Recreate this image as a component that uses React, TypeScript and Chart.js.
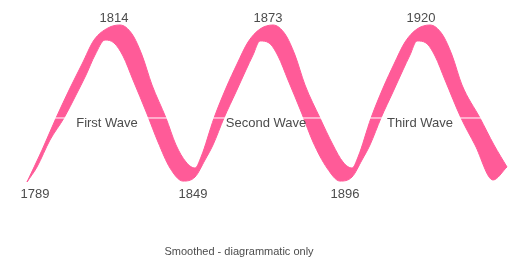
import { useEffect, useRef } from 'react';
import { Chart, registerables } from 'chart.js';

Chart.register(...registerables);

// Upper boundary of the ribbon (outer edge at peaks, inner edge at troughs) – diagrammatic phase units
const upperEdgeX = [0, 3.75, 7.25, 10.75, 13.75, 16.75, 20.25, 23.25, 26.25, 28.75, 31.25, 34.75, 37.25, 39.75, 42, 43.5, 46.75, 49.75, 52.5, 55.25, 58.25, 61.5, 64.5, 67, 69.5, 73.25, 76.5, 79, 81.25, 82.75, 86, 89, 91.75, 94.5, 97.5, 100.75, 103.75, 106.25, 108.75, 113.25, 116.75, 120];
const upperEdgeY = [0, 20.6, 41.3, 60.6, 76.1, 91.6, 99.4, 101.3, 95.5, 81.9, 62.6, 41.3, 23.9, 12.9, 9.0, 16.1, 41.3, 60.6, 76.1, 90.3, 98.7, 101.3, 95.5, 81.9, 62.6, 41.3, 23.9, 12.9, 9.0, 16.1, 41.3, 60.6, 76.1, 90.3, 98.7, 101.3, 95.5, 81.9, 62.6, 41.3, 23.9, 9.7];

// Lower boundary of the ribbon (inner edge at peaks, outer edge at troughs)
const lowerEdgeX = [0, 2.5, 5.75, 9.25, 12.25, 14.75, 17, 19.5, 21.75, 24, 26.5, 30, 32.75, 35.75, 39, 42, 44.5, 46.5, 49.25, 52.25, 54.75, 56.5, 58.25, 60.5, 62.75, 65.25, 68.75, 71.5, 75, 78.25, 81.25, 83.75, 85.75, 88.5, 91.5, 94, 95.75, 97.5, 99.75, 102, 104.5, 108.5, 112, 116.5, 120];
const lowerEdgeY = [0, 9.7, 27.1, 41.3, 56.1, 69.0, 81.9, 91.6, 89.7, 81.3, 65.8, 43.9, 25.8, 9.0, 0.6, 3.2, 14.2, 23.9, 41.3, 58.1, 72.3, 81.9, 91.0, 89.7, 81.3, 65.8, 43.9, 25.8, 9.0, 0.6, 3.2, 14.2, 23.9, 41.3, 58.1, 72.3, 81.9, 91.0, 89.7, 81.3, 65.8, 41.3, 23.9, 1.3, 9.7];

// Turning-point year labels
const yearLabels = ['1789', '1814', '1849', '1873', '1896', '1920'];
const yearX = [2, 21.75, 41.5, 60.25, 79.5, 98.5];
const yearSide = ['below', 'above', 'below', 'above', 'below', 'above'];

// Wave names on the mid line
const waveNames = ['First Wave', 'Second Wave', 'Third Wave'];
const waveNameX = [20, 59.75, 98.25];
const midLevel = 41.3;
const peakLevel = 100;
const troughLevel = 0;

const captionText = 'Smoothed - diagrammatic only';
const captionX = 53;

const PINK = '#ff5b98';
const TEXT = '#4c4c4c';
const FONT = '"Liberation Sans", Arial, sans-serif';

export default function App() {
  const ref = useRef<HTMLCanvasElement>(null);

  useEffect(() => {
    const canvas = ref.current;
    if (!canvas) return;

    const labelPlugin = {
      id: 'waveLabels',
      afterDatasetsDraw(chart: any) {
        const ctx = chart.ctx;
        const xs = chart.scales.x;
        const ys = chart.scales.y;
        ctx.save();
        ctx.fillStyle = TEXT;
        ctx.textAlign = 'center';
        ctx.textBaseline = 'middle';
        ctx.font = `13px ${FONT}`;
        yearLabels.forEach((t, i) => {
          const x = xs.getPixelForValue(yearX[i]);
          const y = yearSide[i] === 'above'
            ? ys.getPixelForValue(peakLevel) - 9
            : ys.getPixelForValue(troughLevel) + 12;
          ctx.fillText(t, x, y);
        });
        waveNames.forEach((t, i) => {
          ctx.fillText(t, xs.getPixelForValue(waveNameX[i]), ys.getPixelForValue(midLevel) + 5.5);
        });
        ctx.font = `11px ${FONT}`;
        ctx.fillText(captionText, xs.getPixelForValue(captionX), ys.getPixelForValue(troughLevel) + 70);
        ctx.restore();
      },
    };

    const chart = new Chart(canvas, {
      type: 'line',
      data: {
        datasets: [
          {
            label: 'mid',
            data: [{ x: 0, y: midLevel }, { x: 120, y: midLevel }],
            borderColor: '#ffffff',
            borderWidth: 1,
            pointRadius: 0,
            fill: false,
            order: 0,
            clip: false,
          },
          {
            label: 'upper',
            data: upperEdgeX.map((x, i) => ({ x, y: upperEdgeY[i] })),
            borderColor: PINK,
            borderWidth: 1,
            pointRadius: 0,
            fill: false,
            cubicInterpolationMode: 'monotone',
            order: 2,
            clip: false,
          },
          {
            label: 'lower',
            data: lowerEdgeX.map((x, i) => ({ x, y: lowerEdgeY[i] })),
            borderColor: PINK,
            backgroundColor: PINK,
            borderWidth: 1,
            pointRadius: 0,
            fill: 1,
            cubicInterpolationMode: 'monotone',
            order: 1,
            clip: false,
          },
        ] as any,
      },
      options: {
        animation: false,
        responsive: false,
        layout: { padding: { left: 27, right: 3, top: 19.25, bottom: 70.25 } },
        scales: {
          x: { type: 'linear', min: 0, max: 120, display: false },
          y: { type: 'linear', min: -5, max: 105, display: false },
        },
        plugins: {
          legend: { display: false },
          tooltip: { enabled: false },
        },
        events: [],
      },
      plugins: [labelPlugin],
    });

    return () => chart.destroy();
  }, []);

  return (
    <div style={{ position: 'absolute', left: 0, top: 0, width: 510, height: 260, background: '#fff' }}>
      <canvas ref={ref} width={510} height={260} />
    </div>
  );
}
